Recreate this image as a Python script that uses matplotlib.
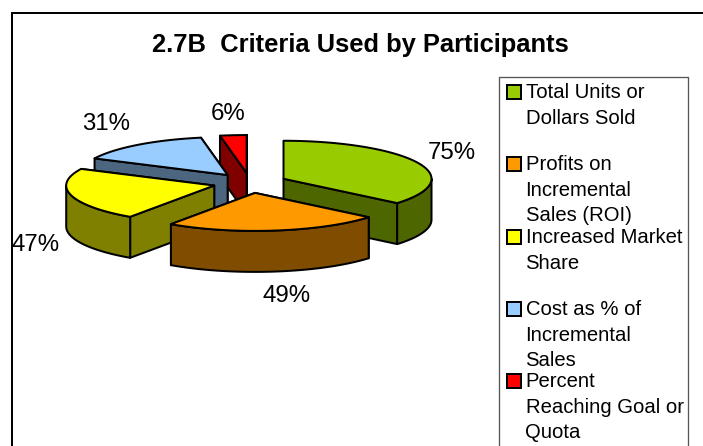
import numpy as np
import matplotlib
matplotlib.use("Agg")
import matplotlib.pyplot as plt
from matplotlib.patches import Polygon, Rectangle

title = "2.7B  Criteria Used by Participants"
values = [75, 49, 47, 31, 6]
value_labels = ["75%", "49%", "47%", "31%", "6%"]
categories = [
    ["Total Units or", "Dollars Sold"],
    ["Profits on", "Incremental", "Sales (ROI)"],
    ["Increased Market", "Share"],
    ["Cost as % of", "Incremental", "Sales"],
    ["Percent", "Reaching Goal or", "Quota"],
]
top_colors = ["#99CC00", "#FF9900", "#FFFF00", "#99CCFF", "#FF0000"]
side_colors = ["#4D6600", "#804D00", "#808000", "#4D6680", "#800000"]

# pie layout, in pixels of the picture
cx, cy = 250, 183
rx, ry = 148, 38
depth = 41
explode = 37
label_pos = [(452, 153), (287, 296), (36, 245), (106, 124), (228, 114)]
legend_y = [92, 164, 237, 309, 381]
line_step = 25.7
draw_order = [4, 3, 2, 0, 1]

plt.rcParams["font.family"] = ["Liberation Sans", "DejaVu Sans"]
fig = plt.figure(figsize=(7.03, 4.46), dpi=100)
ax = fig.add_axes([0, 0, 1, 1])
ax.set_xlim(0, 703)
ax.set_ylim(446, 0)
ax.axis("off")


def px(n):
    return n * 72 / 100


def ellipse(c, t):
    return np.column_stack([c[0] + rx * np.cos(t), c[1] - ry * np.sin(t)])


def draw_slice(start, end, top, side):
    # angles run clockwise from start down to end
    mid = (start + end) / 2
    c = (cx + explode * np.cos(mid), cy - explode * 0.27 * np.sin(mid))
    t = np.linspace(start, end, 80)
    arc = ellipse(c, t)
    style = dict(edgecolor="black", linewidth=px(2), joinstyle="round")
    shift = np.array([0, depth])
    # straight cut faces, the one nearer the viewer last
    for p in sorted([arc[0], arc[-1]], key=lambda q: q[1]):
        quad = [c, p, p + shift, np.array(c) + shift]
        ax.add_patch(Polygon(quad, closed=True, facecolor=side, **style))
    # outer rim, only the part turned to the viewer
    if end < 0 and start > -np.pi:
        tf = np.linspace(min(start, 0), max(end, -np.pi), 80)
        front = ellipse(c, tf)
        rim = np.vstack([front, (front + shift)[::-1]])
        ax.add_patch(Polygon(rim, closed=True, facecolor=side, **style))
    ax.add_patch(Polygon(np.vstack([[c], arc]), closed=True, facecolor=top, **style))


edges = np.pi / 2 - np.concatenate([[0], np.cumsum(values)]) / sum(values) * 2 * np.pi
for i in draw_order:
    draw_slice(edges[i], edges[i + 1], top_colors[i], side_colors[i])

for lab, (x, y) in zip(value_labels, label_pos):
    ax.text(x, y, lab, fontsize=px(24), ha="center", va="center", color="black")

# chart frame, open at the bottom because the picture is cropped there
ax.plot([11.5, 11.5, 703], [446, 12.5, 12.5], color="black", linewidth=px(2), solid_joinstyle="miter")
ax.text(360, 45, title, fontsize=px(25.5), fontweight="bold", ha="center", va="center")

# legend
ax.plot([498.5, 498.5, 688, 688], [446, 77, 77, 446], color="#555555", linewidth=px(1.3))
for i, lines in enumerate(categories):
    ax.add_patch(Rectangle((506.5, legend_y[i] - 7.5), 14, 14, facecolor=top_colors[i],
                           edgecolor="black", linewidth=px(2)))
    for j, line in enumerate(lines):
        ax.text(525.5, legend_y[i] + 0.5 + j * line_step, line, fontsize=px(20.3), ha="left", va="center")

fig.savefig("out.png", dpi=100)
